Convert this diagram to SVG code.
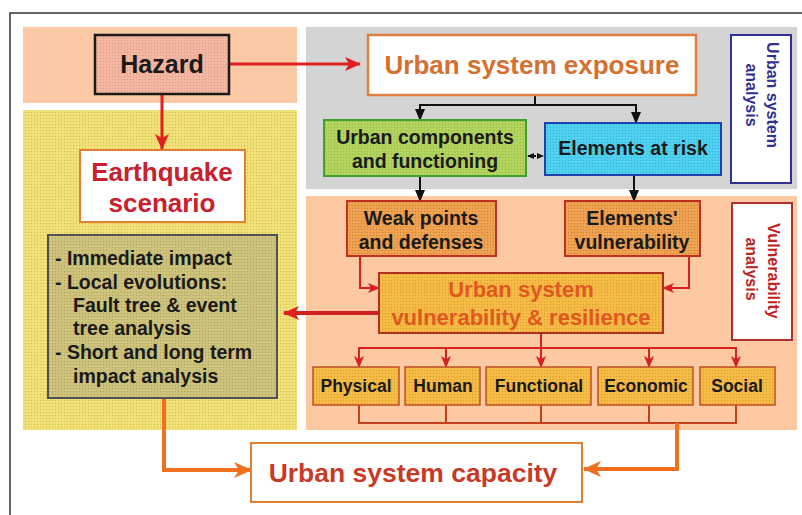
<svg xmlns="http://www.w3.org/2000/svg" width="802" height="515" viewBox="0 0 802 515">
<defs>
<pattern id="dotY" width="3" height="3" patternUnits="userSpaceOnUse"><rect width="3" height="3" fill="#f2e27a"/><circle cx="1.5" cy="1.5" r="0.7" fill="#d8c050"/></pattern>
<pattern id="dotH" width="3" height="3" patternUnits="userSpaceOnUse"><rect width="3" height="3" fill="#f4b8a2"/><circle cx="1.5" cy="1.5" r="0.7" fill="#e09a88"/></pattern>
<pattern id="dotG" width="3" height="3" patternUnits="userSpaceOnUse"><rect width="3" height="3" fill="#b4d460"/><circle cx="1.5" cy="1.5" r="0.7" fill="#98bc40"/></pattern>
<pattern id="dotC" width="3" height="3" patternUnits="userSpaceOnUse"><rect width="3" height="3" fill="#52d2f0"/><circle cx="1.5" cy="1.5" r="0.7" fill="#30b8dc"/></pattern>
<pattern id="dotO" width="3" height="3" patternUnits="userSpaceOnUse"><rect width="3" height="3" fill="#f0a452"/><circle cx="1.5" cy="1.5" r="0.7" fill="#d08438"/></pattern>
<pattern id="dotV" width="3" height="3" patternUnits="userSpaceOnUse"><rect width="3" height="3" fill="#f6bc46"/><circle cx="1.5" cy="1.5" r="0.7" fill="#dca030"/></pattern>
<pattern id="dotK" width="3" height="3" patternUnits="userSpaceOnUse"><rect width="3" height="3" fill="#cec47e"/><circle cx="1.5" cy="1.5" r="0.7" fill="#b0a660"/></pattern>
<marker id="aRed" markerWidth="16" markerHeight="14" refX="15" refY="7" orient="auto" markerUnits="userSpaceOnUse"><path d="M0,0 L16,7 L0,14 L4,7 Z" fill="#e02020"/></marker>
<marker id="aRedS" markerWidth="12" markerHeight="10" refX="11" refY="5" orient="auto" markerUnits="userSpaceOnUse"><path d="M0,0 L12,5 L0,10 L3,5 Z" fill="#d82020"/></marker>
<marker id="aBlk" markerWidth="12" markerHeight="10" refX="11" refY="5" orient="auto" markerUnits="userSpaceOnUse"><path d="M0,0 L12,5 L0,10 Z" fill="#111"/></marker>
<marker id="aBlkS" markerWidth="7" markerHeight="6" refX="6" refY="3" orient="auto-start-reverse" markerUnits="userSpaceOnUse"><path d="M0,0 L7,3 L0,6 Z" fill="#111"/></marker>
<marker id="aOr" markerWidth="18" markerHeight="16" refX="17" refY="8" orient="auto" markerUnits="userSpaceOnUse"><path d="M0,0 L18,8 L0,16 L5,8 Z" fill="#f07020"/></marker>
</defs>
<style>
text{font-family:"Liberation Sans",Arial,sans-serif;font-weight:bold;text-anchor:middle}
.big{font-size:26px}
.mid{font-size:19.5px;fill:#1a1a1a}
.sm{font-size:17.5px;fill:#1a1a1a}
.lst{font-size:19.5px;fill:#1a1a1a;text-anchor:start}
.cr{fill:none;stroke:#d82020;stroke-width:2}
.cb{fill:none;stroke:#111;stroke-width:2}
</style>
<rect width="802" height="515" fill="#ffffff"/>
<path d="M10,515 V13 H802" fill="none" stroke="#333" stroke-width="1.5"/>
<g id="panels">
<rect x="23" y="27" width="274" height="76" fill="#fbc9a5"/>
<rect x="23" y="110" width="274" height="320" fill="url(#dotY)"/>
<rect x="306" y="27" width="491" height="162" fill="#d4d4d4"/>
<rect x="306" y="196" width="491" height="234" fill="#fcc9a3"/>
</g>
<g id="connectors">
<line x1="229" y1="64" x2="360" y2="64" stroke="#e02020" stroke-width="3" marker-end="url(#aRed)"/>
<line x1="162" y1="94" x2="162" y2="149" stroke="#e02020" stroke-width="3" marker-end="url(#aRed)"/>
<path class="cb" d="M535,95 V105 M420,105 H636"/>
<line x1="420" y1="104" x2="420" y2="120" stroke="#111" stroke-width="2" marker-end="url(#aBlk)"/>
<line x1="636" y1="104" x2="636" y2="123" stroke="#111" stroke-width="2" marker-end="url(#aBlk)"/>
<line x1="528" y1="156" x2="543" y2="156" stroke="#111" stroke-width="2" stroke-dasharray="3,2" marker-start="url(#aBlkS)" marker-end="url(#aBlkS)"/>
<line x1="420" y1="176" x2="420" y2="201" stroke="#111" stroke-width="2" marker-end="url(#aBlk)"/>
<line x1="634" y1="175" x2="634" y2="201" stroke="#111" stroke-width="2" marker-end="url(#aBlk)"/>
<path class="cr" d="M360,256 V288 H379" marker-end="url(#aRedS)"/>
<path class="cr" d="M689,256 V288 H663" marker-end="url(#aRedS)"/>
<line x1="379" y1="313" x2="284" y2="313" stroke="#d02020" stroke-width="4" marker-end="url(#aRed)"/>
<path class="cr" d="M541,333 V348 M359,348 H736"/>
<line class="cr" x1="359" y1="347" x2="359" y2="367" marker-end="url(#aRedS)"/>
<line class="cr" x1="446" y1="347" x2="446" y2="367" marker-end="url(#aRedS)"/>
<line class="cr" x1="541" y1="347" x2="541" y2="367" marker-end="url(#aRedS)"/>
<line class="cr" x1="649" y1="347" x2="649" y2="367" marker-end="url(#aRedS)"/>
<line class="cr" x1="736" y1="347" x2="736" y2="367" marker-end="url(#aRedS)"/>
<path d="M359,405 V423 H736 V405 M446,405 V423 M541,405 V423 M649,405 V423" fill="none" stroke="#c04020" stroke-width="2"/>
<path d="M677,423 V469 H584" fill="none" stroke="#f07020" stroke-width="4" marker-end="url(#aOr)"/>
<path d="M164,398 V470 H251" fill="none" stroke="#f07020" stroke-width="4" marker-end="url(#aOr)"/>
</g>
<g id="hazard">
<rect x="95" y="35" width="134" height="59" fill="url(#dotH)" stroke="#1a1a1a" stroke-width="2.5"/>
<text x="162" y="73" fill="#1a1a1a" font-size="25">Hazard</text>
</g>
<g id="earthquake-scenario">
<rect x="80" y="150" width="165" height="72" fill="#fff" stroke="#e08030" stroke-width="2"/>
<text class="big" x="162" y="181" fill="#c8202c">Earthquake</text>
<text class="big" x="162" y="212" fill="#c8202c">scenario</text>
</g>
<g id="impact">
<rect x="48" y="235" width="229" height="163" fill="url(#dotK)" stroke="#505050" stroke-width="2"/>
<text class="lst" x="55" y="265">- Immediate impact</text>
<text class="lst" x="55" y="289">- Local evolutions:</text>
<text class="lst" x="73" y="312">Fault tree &amp; event</text>
<text class="lst" x="73" y="335">tree analysis</text>
<text class="lst" x="55" y="359">- Short and long term</text>
<text class="lst" x="73" y="383">impact analysis</text>
</g>
<g id="exposure">
<rect x="368" y="35" width="328" height="60" fill="#fff" stroke="#e08040" stroke-width="2.5"/>
<text class="big" x="532" y="74" fill="#d47030">Urban system exposure</text>
</g>
<g id="urban-system-analysis">
<rect x="731" y="35" width="60" height="148" fill="#fff" stroke="#303090" stroke-width="2"/>
<text transform="translate(772,95) rotate(90)" y="5" font-size="16" fill="#303090">Urban system</text>
<text transform="translate(751,95) rotate(90)" y="5" font-size="16" fill="#303090">analysis</text>
</g>
<g id="components">
<rect x="324" y="120" width="202" height="56" fill="url(#dotG)" stroke="#40a030" stroke-width="2"/>
<text class="mid" x="425" y="144">Urban components</text>
<text class="mid" x="425" y="168">and functioning</text>
</g>
<g id="elements-at-risk">
<rect x="545" y="123" width="176" height="52" fill="url(#dotC)" stroke="#2040b0" stroke-width="2"/>
<text class="mid" x="633" y="155">Elements at risk</text>
</g>
<g id="weak-points">
<rect x="347" y="201" width="149" height="55" fill="url(#dotO)" stroke="#c03020" stroke-width="2"/>
<text class="mid" x="421" y="225">Weak points</text>
<text class="mid" x="421" y="249">and defenses</text>
</g>
<g id="elements-vulnerability">
<rect x="565" y="201" width="135" height="55" fill="url(#dotO)" stroke="#c03020" stroke-width="2"/>
<text class="mid" x="632" y="225">Elements'</text>
<text class="mid" x="632" y="249">vulnerability</text>
</g>
<g id="vulnerability-analysis">
<rect x="732" y="203" width="60" height="137" fill="#fff" stroke="#b03030" stroke-width="2"/>
<text transform="translate(773,271) rotate(90)" y="5" font-size="16" fill="#c02020">Vulnerability</text>
<text transform="translate(751,269) rotate(90)" y="5" font-size="16" fill="#c02020">analysis</text>
</g>
<g id="urban-vulnerability">
<rect x="379" y="273" width="284" height="60" fill="url(#dotV)" stroke="#b03020" stroke-width="2"/>
<text x="521" y="297" font-size="22" fill="#e05820">Urban system</text>
<text x="521" y="325" font-size="22" fill="#e05820">vulnerability &amp; resilience</text>
</g>
<g id="physical"><rect x="313" y="367" width="86" height="38" fill="url(#dotV)" stroke="#c05020" stroke-width="1.5"/><text class="sm" x="356" y="392">Physical</text></g>
<g id="human"><rect x="405" y="367" width="75" height="38" fill="url(#dotV)" stroke="#c05020" stroke-width="1.5"/><text class="sm" x="443" y="392">Human</text></g>
<g id="functional"><rect x="486" y="367" width="105" height="38" fill="url(#dotV)" stroke="#c05020" stroke-width="1.5"/><text class="sm" x="539" y="392">Functional</text></g>
<g id="economic"><rect x="598" y="367" width="95" height="38" fill="url(#dotV)" stroke="#c05020" stroke-width="1.5"/><text class="sm" x="646" y="392">Economic</text></g>
<g id="social"><rect x="700" y="367" width="75" height="38" fill="url(#dotV)" stroke="#c05020" stroke-width="1.5"/><text class="sm" x="737" y="392">Social</text></g>
<g id="capacity">
<rect x="251" y="443" width="331" height="59" fill="#fff" stroke="#e08030" stroke-width="2"/>
<text x="413" y="482" font-size="26.5" fill="#c83a28">Urban system capacity</text>
</g>
</svg>
